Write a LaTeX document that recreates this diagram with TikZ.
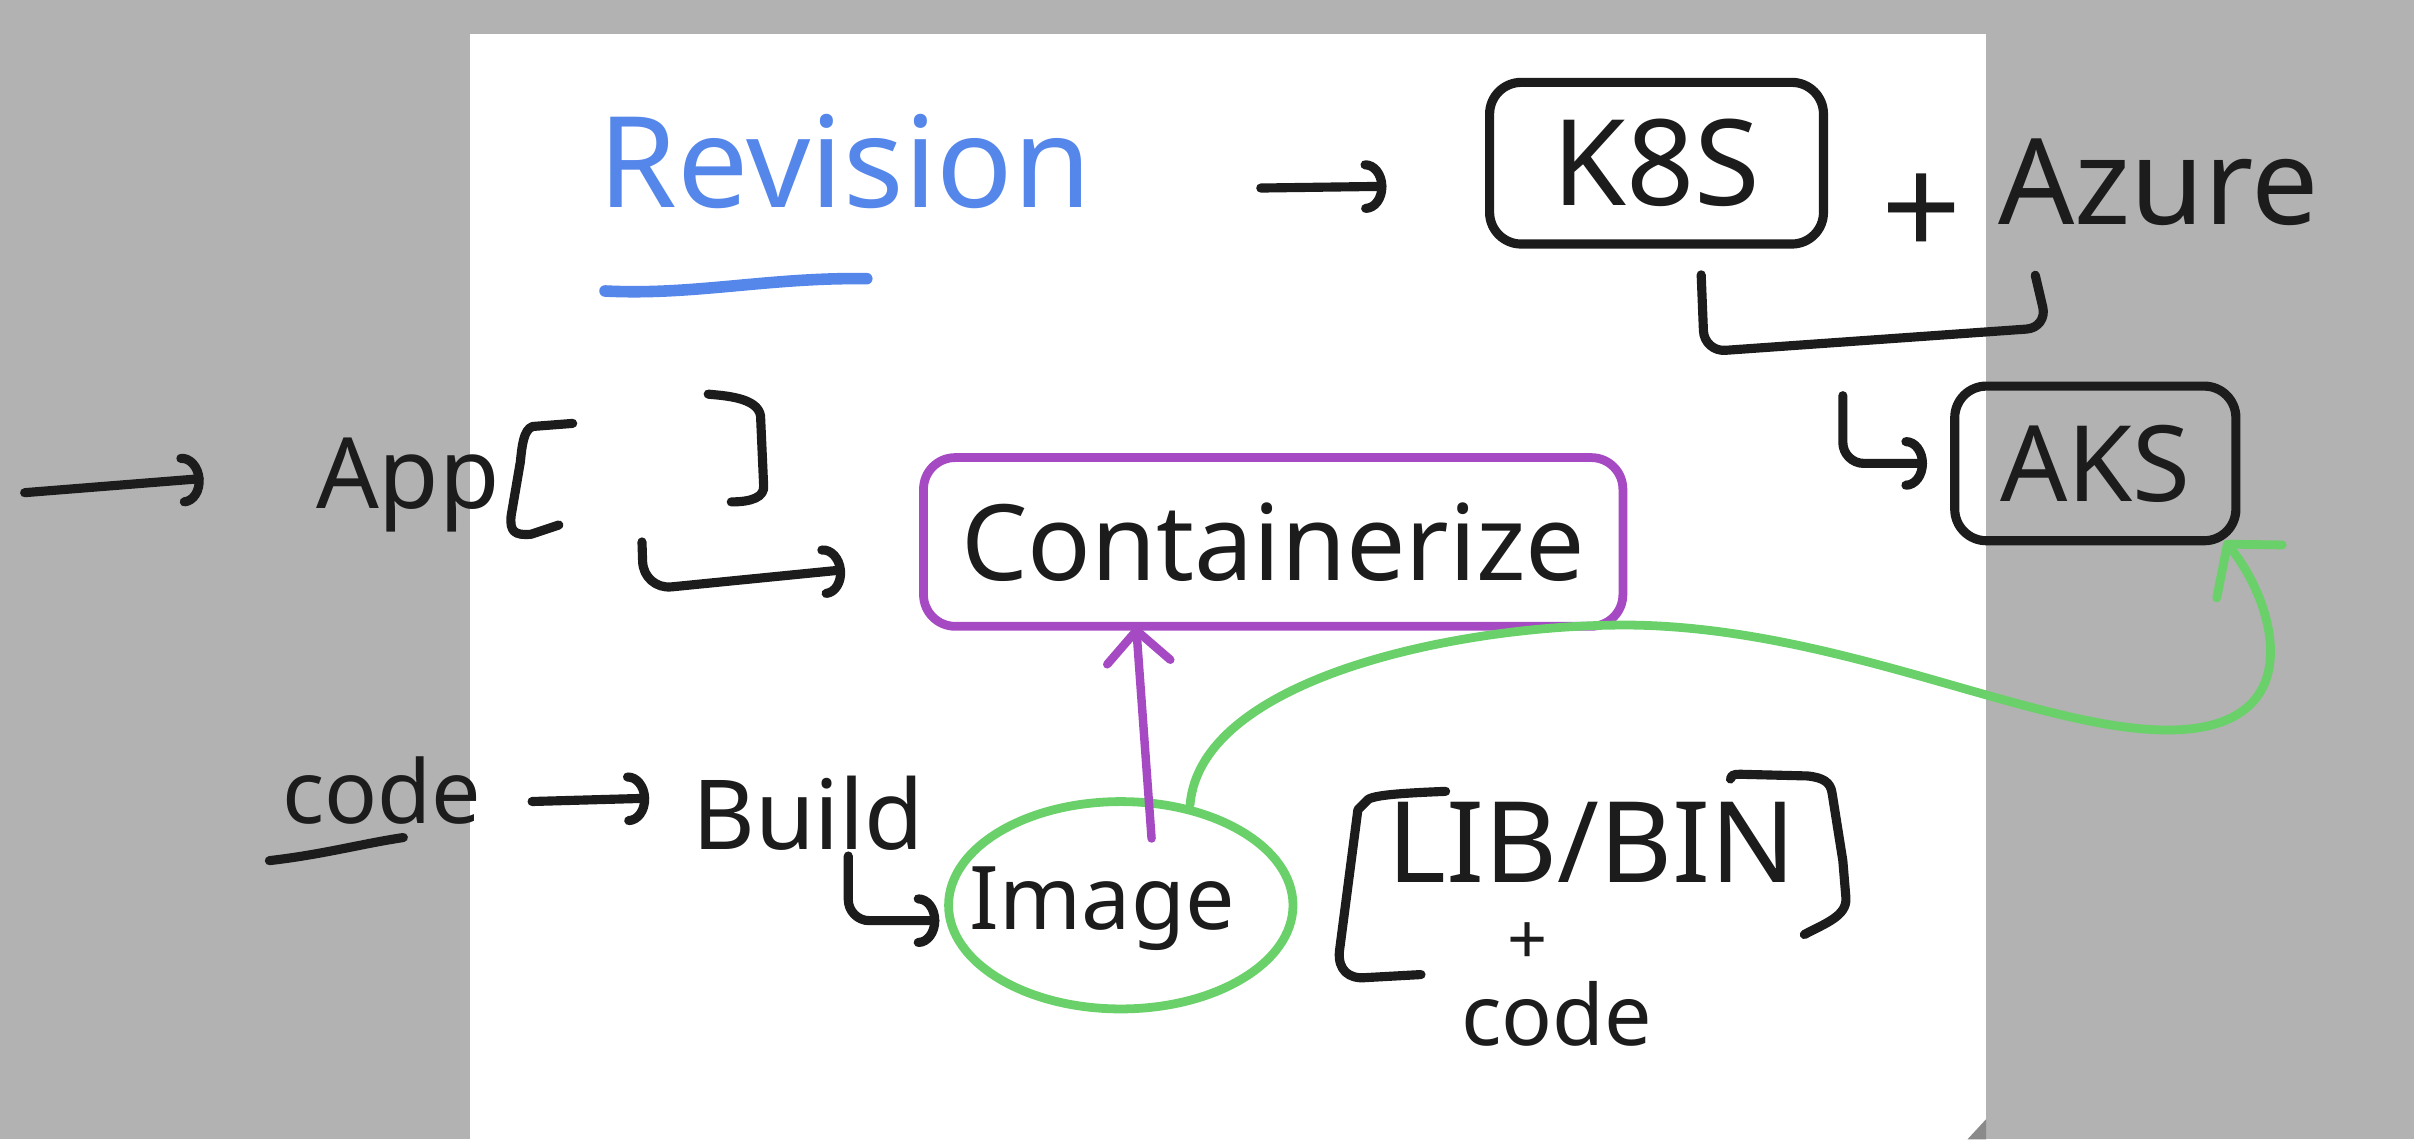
\documentclass[tikz,border=0pt]{standalone}
\usepackage{fontspec}
\setmainfont{Noto Sans}
\usetikzlibrary{arrows.meta,shapes.geometric}
\definecolor{bgray}{HTML}{B2B2B2}
\definecolor{ink}{HTML}{1C1C1C}
\definecolor{penblue}{HTML}{5587EB}
\definecolor{penpurple}{HTML}{A64AC4}
\definecolor{pengreen}{HTML}{6AD16A}
\definecolor{curl}{HTML}{8A8A8A}
\newcommand{\hfs}[1]{\fontsize{#1}{#1}\selectfont}
\begin{document}
\begin{tikzpicture}[x=0.015395cm, y=-0.015395cm,
  every node/.style={inner sep=0pt, outer sep=0pt, text=ink},
  pen/.style={draw=ink, line width=2.6pt, line cap=round, line join=round},
  hook/.style={pen, -{Arc Barb[length=6pt,width=15pt,round]}},
  inkbox/.style={draw=ink, line width=2.6pt, rounded corners=9pt},
  purplebox/.style={draw=penpurple, line width=2.5pt, rounded corners=9pt},
  greenring/.style={draw=pengreen, line width=2.5pt, ellipse},
  purplearrow/.style={draw=penpurple, line width=2.4pt, line cap=round, line join=round, -{Straight Barb[length=9pt,width=18pt,round]}},
  greenarrow/.style={draw=pengreen, line width=2.5pt, line cap=round, line join=round, -{Straight Barb[length=10pt,width=24pt,round]}},
  blueline/.style={draw=penblue, line width=3.3pt, line cap=round}
]
% background and page
\fill[bgray] (0,0) rectangle (1568,740);
\fill[white] (305,22) rectangle (1290,740);
\fill[curl] (1278,740) -- (1290,727) -- (1290,740) -- cycle;
\useasboundingbox (0,0) rectangle (1568,740);

% nodes
\node[font=\hfs{36}, text=penblue, anchor=base] (rev) at (549,135) {Revision};
\node[inkbox, minimum width=95pt, minimum height=46pt, font=\hfs{34}] (k8s) at (1076,106) {K8S};
\node[font=\hfs{40}] (plus1) at (1248,140) {+};
\node[font=\hfs{34}, anchor=base] (azure) at (1402,146) {Azure};
\node[inkbox, minimum width=80pt, minimum height=44pt, font=\hfs{30}] (aks) at (1361,301) {AKS};
\node[font=\hfs{28}, anchor=base] (app) at (265,330) {App};
\node[purplebox, minimum width=199pt, minimum height=48pt, font=\hfs{30}] (cont) at (827,352) {Containerize};
\node[font=\hfs{25}, anchor=base] (code) at (248,535) {code};
\node[font=\hfs{27.5}, anchor=base] (build) at (525,552) {Build};
\node[greenring, minimum width=98pt, minimum height=59pt] (img) at (728,588) {};
\node[font=\hfs{25}] (imgtext) at (716,590) {Image};
\node[font=\hfs{32}, anchor=base] (lib) at (1034,573) {LIB/BIN};
\node[font=\hfs{20}] (plus2) at (992,613) {+};
\node[font=\hfs{24}, anchor=base] (code2) at (1011,679) {code};

% free start points
\coordinate (a0) at (16,320);
\coordinate (hk1) at (1197,257);
\coordinate (hk2) at (417,352);
\coordinate (hk3) at (551,556);

% underlines
\draw[blueline] (393,189) .. controls (450,192) and (500,180) .. (563,181);
\draw[pen] (175,559) .. controls (210,555) and (235,548) .. (262,544);

% brackets
\draw[pen] (372,275) -- (346,277) .. controls (340,279) and (339,290) .. (338,300) -- (332,335) .. controls (331,345) and (334,348) .. (345,347) -- (363,341);
\draw[pen] (460,256) .. controls (470,257) and (492,258) .. (494,270) -- (496,315) .. controls (497,323) and (488,326) .. (475,326);
\draw[pen] (939,514) .. controls (915,515) and (895,516) .. (889,519) -- (882,526) -- (870,618) .. controls (869,630) and (876,636) .. (887,635) -- (923,633);
\draw[pen] (1124,506) .. controls (1124,502) and (1130,503) .. (1134,503) -- (1174,504) .. controls (1184,505) and (1189,508) .. (1190,515) -- (1197,559) -- (1199,583) .. controls (1200,595) and (1185,600) .. (1172,607);

% connectors
\draw[hook] ([shift={(110,17)}]rev.east) -- ([shift={(-67,15)}]k8s.west);
\draw[pen, rounded corners=6pt] ([shift={(29,20)}]k8s.south) -- ([shift={(31,70)}]k8s.south) -- ([shift={(-72,66)}]azure.south) -- ([shift={(-80,32)}]azure.south);
\draw[hook, rounded corners=6pt] (hk1) |- ([shift={(-18,0)}]aks.west);
\draw[hook] (a0) -- ([shift={(-73,-4)}]app.west);
\draw[hook, rounded corners=8pt] (hk2) -- ++(1,31) -- ([shift={(-51,18)}]cont.west);
\draw[purplearrow] ([shift={(20,24)}]img.north) -- ([shift={(-89,0)}]cont.south);
\draw[hook] ([shift={(33,7)}]code.east) -- ([shift={(-28,-10)}]build.west);
\draw[hook, rounded corners=6pt] (hk3) |- ([shift={(-6,10)}]img.west);
\draw[greenarrow] ([shift={(45,2)}]img.north) .. controls (780,440) and (950,405) .. (1060,406) .. controls (1200,408) and (1330,478) .. (1415,474) .. controls (1500,470) and (1478,392) .. ([shift={(84,0)}]aks.south);
\end{tikzpicture}
\end{document}
